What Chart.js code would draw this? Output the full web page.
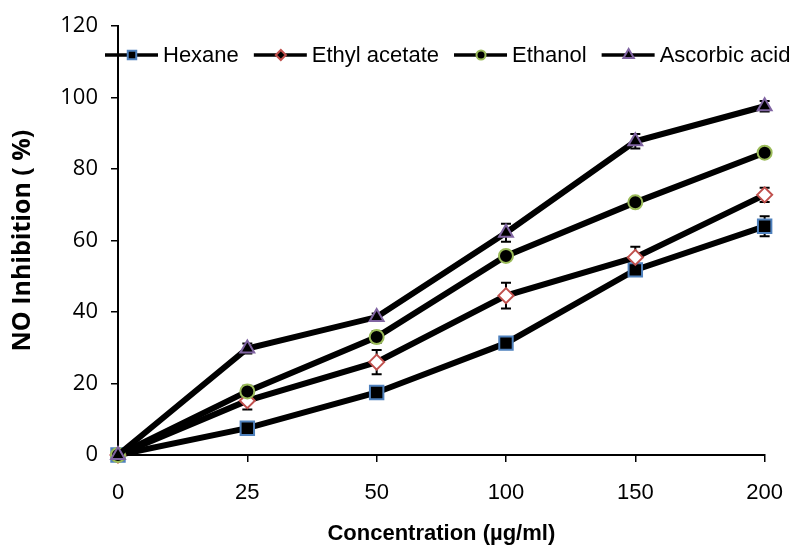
<!DOCTYPE html>
<html>
<head>
<meta charset="utf-8">
<script src="https://cdn.jsdelivr.net/npm/chart.js@4/dist/chart.umd.min.js"></script>
<style>
  html, body { margin: 0; padding: 0; background: #fff; }
  #wrap { width: 801px; height: 548px; position: relative; }
</style>
</head>
<body>
<div id="wrap"><canvas id="c" width="801" height="548"></canvas></div>
<script>
// ---- data ----
const categories = ['0', '25', '50', '100', '150', '200'];
const seriesNames = ['Hexane', 'Ethyl acetate', 'Ethanol', 'Ascorbic acid'];
const hexane      = [0, 7.5, 17.5, 31.3, 51.8, 64.0];
const ethylAcetate = [0, 15.2, 26.0, 44.6, 55.3, 72.8];
const ethanol     = [0, 17.8, 33.0, 55.7, 70.7, 84.6];
const ascorbic    = [0, 29.8, 38.6, 62.2, 87.8, 97.6];
const hexaneErr   = [0, 0.8, 1.0, 1.0, 1.0, 2.8];
const ethylErr    = [0, 2.5, 3.4, 3.6, 3.0, 2.0];
const ethanolErr  = [0, 1.6, 1.6, 0.8, 0.8, 0.8];
const ascorbicErr = [0, 1.4, 1.0, 2.5, 2.0, 1.5];
const yTicks = [0, 20, 40, 60, 80, 100, 120];
const xTitle = 'Concentration (µg/ml)';
const yTitle = 'NO Inhibition ( %)';

const values = [hexane, ethylAcetate, ethanol, ascorbic];
const errors = [hexaneErr, ethylErr, ethanolErr, ascorbicErr];

const markerStyles = [
  { pointStyle: 'rect',     radius: 9.5, fill: '#000', stroke: '#4F81BD', lr: 6, lfill: '#000' },
  { pointStyle: 'rectRot',  radius: 7.5, fill: '#fff', stroke: '#C0504D', lr: 5, lfill: '#000' },
  { pointStyle: 'circle',   radius: 7,   fill: '#000', stroke: '#9BBB59', lr: 4.5, lfill: '#000' },
  { pointStyle: 'triangle', radius: 8,   fill: '#000', stroke: '#8064A2', lr: 6, lfill: '#000' }
];

const datasets = seriesNames.map((name, i) => ({
  label: name,
  data: values[i],
  errors: errors[i],
  borderColor: '#000',
  borderWidth: 6,
  tension: 0,
  fill: false,
  clip: false,
  order: 3 - i,
  pointStyle: markerStyles[i].pointStyle,
  pointRadius: markerStyles[i].radius,
  pointHoverRadius: markerStyles[i].radius,
  pointBackgroundColor: markerStyles[i].fill,
  pointBorderColor: markerStyles[i].stroke,
  pointBorderWidth: 2
}));

const errorBarPlugin = {
  id: 'errorBars',
  beforeDatasetsDraw(chart) {
    const ctx = chart.ctx;
    const xs = chart.scales.x, ys = chart.scales.y;
    ctx.save();
    ctx.strokeStyle = '#000';
    ctx.lineWidth = 2;
    chart.data.datasets.forEach(ds => {
      ds.data.forEach((v, j) => {
        const e = ds.errors[j];
        if (!e) return;
        const x = xs.getPixelForValue(j);
        const y1 = ys.getPixelForValue(v + e);
        const y2 = ys.getPixelForValue(v - e);
        ctx.beginPath();
        ctx.moveTo(x, y1); ctx.lineTo(x, y2);
        ctx.moveTo(x - 5, y1); ctx.lineTo(x + 5, y1);
        ctx.moveTo(x - 5, y2); ctx.lineTo(x + 5, y2);
        ctx.stroke();
      });
    });
    ctx.restore();
  }
};

const legendPlugin = {
  id: 'customLegend',
  afterDraw(chart) {
    const ctx = chart.ctx;
    ctx.save();
    ctx.font = '22px "Liberation Sans", Arial, sans-serif';
    ctx.textBaseline = 'middle';
    ctx.fillStyle = '#000';
    let x = 105;
    const y = 55;
    chart.data.datasets.forEach((ds, i) => {
      const m = markerStyles[i];
      ctx.strokeStyle = '#000';
      ctx.lineWidth = 3.5;
      ctx.beginPath();
      ctx.moveTo(x, y); ctx.lineTo(x + 53, y);
      ctx.stroke();
      ctx.fillStyle = m.lfill;
      ctx.strokeStyle = m.stroke;
      ctx.lineWidth = 2;
      Chart.helpers.drawPoint(ctx, { pointStyle: m.pointStyle, radius: m.lr, rotation: 0, borderWidth: 2 }, x + 27, y);
      ctx.fillStyle = '#000';
      const tx = x + 58;
      ctx.fillText(ds.label, tx, y + 1);
      x = tx + ctx.measureText(ds.label).width + 15;
    });
    ctx.restore();
  }
};

new Chart(document.getElementById('c'), {
  type: 'line',
  data: { labels: categories, datasets },
  options: {
    responsive: false,
    animation: false,
    events: [],
    layout: { padding: { left: 0, right: 21, top: 24, bottom: 0 } },
    plugins: { legend: { display: false }, tooltip: { enabled: false }, title: { display: false } },
    scales: {
      x: {
        type: 'category',
        offset: false,
        afterFit: s => { s.height = 93; },
        grid: { display: true, drawOnChartArea: false, drawTicks: true, tickLength: 7, color: '#000', lineWidth: 1.5 },
        border: { display: true, color: '#000', width: 2 },
        ticks: { color: '#000', padding: 18, maxRotation: 0, autoSkip: false,
                 font: { family: '"Liberation Sans", Arial, sans-serif', size: 22 } },
        title: { display: true, text: xTitle, color: '#000', padding: { top: 0, bottom: 1 },
                 font: { family: '"Liberation Sans", Arial, sans-serif', size: 22, weight: 'bold', lineHeight: 1.2 } }
      },
      y: {
        min: 0, max: 120,
        afterFit: s => { s.width = 118; },
        afterBuildTicks: s => { s.ticks = yTicks.map(v => ({ value: v })); },
        grid: { display: true, drawOnChartArea: false, drawTicks: true, tickLength: 7, color: '#000', lineWidth: 1.5 },
        border: { display: true, color: '#000', width: 2 },
        ticks: { color: '#000', padding: 13,
                 font: { family: '"Open Sans", sans-serif', size: 22 } },
        title: { display: true, text: yTitle, color: '#000', padding: { top: 8, bottom: 0 },
                 font: { family: '"Open Sans", sans-serif', size: 25, weight: 'bold', lineHeight: 1.2 } }
      }
    }
  },
  plugins: [errorBarPlugin, legendPlugin]
});
</script>
</body>
</html>
